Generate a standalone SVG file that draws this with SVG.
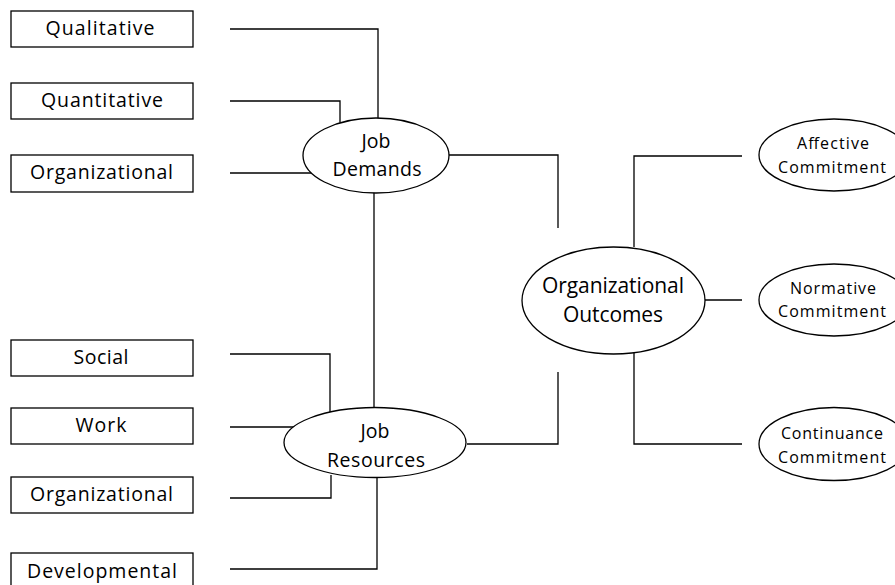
<svg xmlns="http://www.w3.org/2000/svg" width="895" height="585" viewBox="0 0 895 585">
<style>
.box{fill:#fff;stroke:#000;stroke-width:1.3}
.ell{fill:#fff;stroke:#000;stroke-width:1.3}
.ln{fill:none;stroke:#000;stroke-width:1.3}
text{font-family:"Open Sans","Liberation Sans",sans-serif;fill:#000;text-anchor:middle}
.t18{font-size:19.5px}
.t20{font-size:21px}
.t15{font-size:16px}
</style>
<rect width="895" height="585" fill="#fff"/>
<g id="connectors">
<polyline class="ln" points="230,29 378,29 378,118"/>
<polyline class="ln" points="230,101 340,101 340,123"/>
<polyline class="ln" points="230,173 312,173"/>
<polyline class="ln" points="374,192 374,408"/>
<polyline class="ln" points="449,155 558,155 558,228"/>
<polyline class="ln" points="230,354 330,354 330,412"/>
<polyline class="ln" points="230,427 296,427"/>
<polyline class="ln" points="230,498 331,498 331,475"/>
<polyline class="ln" points="230,569 377,569 377,477"/>
<polyline class="ln" points="467,444 558,444 558,372"/>
<polyline class="ln" points="634,247 634,156 742,156"/>
<polyline class="ln" points="704,300 742,300"/>
<polyline class="ln" points="634,353 634,444 742,444"/>
</g>
<g id="qualitative"><rect class="box" x="11" y="11" width="182" height="36"/><text class="t18" x="100" y="35" textLength="109" lengthAdjust="spacing">Qualitative</text></g>
<g id="quantitative"><rect class="box" x="11" y="83" width="182" height="36"/><text class="t18" x="102" y="107" textLength="122" lengthAdjust="spacing">Quantitative</text></g>
<g id="organizational1"><rect class="box" x="11" y="155" width="182" height="37"/><text class="t18" x="101.5" y="179" textLength="143" lengthAdjust="spacing">Organizational</text></g>
<g id="job-demands"><ellipse class="ell" cx="376" cy="155.5" rx="73" ry="37.5"/><text class="t18" x="376" y="148">Job</text><text class="t18" x="377" y="176" textLength="89" lengthAdjust="spacing">Demands</text></g>
<g id="social"><rect class="box" x="11" y="340" width="182" height="36"/><text class="t18" x="101" y="364" textLength="55" lengthAdjust="spacing">Social</text></g>
<g id="work"><rect class="box" x="11" y="408" width="182" height="36"/><text class="t18" x="101" y="432" textLength="51" lengthAdjust="spacing">Work</text></g>
<g id="organizational2"><rect class="box" x="11" y="477" width="182" height="36"/><text class="t18" x="101.5" y="501" textLength="143" lengthAdjust="spacing">Organizational</text></g>
<g id="developmental"><rect class="box" x="11" y="553" width="182" height="40"/><text class="t18" x="102" y="578" textLength="150" lengthAdjust="spacing">Developmental</text></g>
<g id="job-resources"><ellipse class="ell" cx="375" cy="442.5" rx="91" ry="35"/><text class="t18" x="375" y="438">Job</text><text class="t18" x="376" y="467" textLength="98" lengthAdjust="spacing">Resources</text></g>
<g id="organizational-outcomes"><ellipse class="ell" cx="613.5" cy="300.5" rx="91.5" ry="53.5"/><text class="t20" x="613" y="293" textLength="142" lengthAdjust="spacing">Organizational</text><text class="t20" x="613" y="322" textLength="100" lengthAdjust="spacing">Outcomes</text></g>
<g id="affective"><ellipse class="ell" cx="834" cy="155" rx="75" ry="36"/><text class="t15" x="833" y="149" textLength="72" lengthAdjust="spacing">Affective</text><text class="t15" x="832" y="173" textLength="108" lengthAdjust="spacing">Commitment</text></g>
<g id="normative"><ellipse class="ell" cx="834" cy="300" rx="75" ry="36"/><text class="t15" x="833" y="294" textLength="86" lengthAdjust="spacing">Normative</text><text class="t15" x="832" y="317" textLength="108" lengthAdjust="spacing">Commitment</text></g>
<g id="continuance"><ellipse class="ell" cx="834" cy="444" rx="75" ry="36.5"/><text class="t15" x="832" y="439" textLength="102" lengthAdjust="spacing">Continuance</text><text class="t15" x="832" y="463" textLength="108" lengthAdjust="spacing">Commitment</text></g>
</svg>
